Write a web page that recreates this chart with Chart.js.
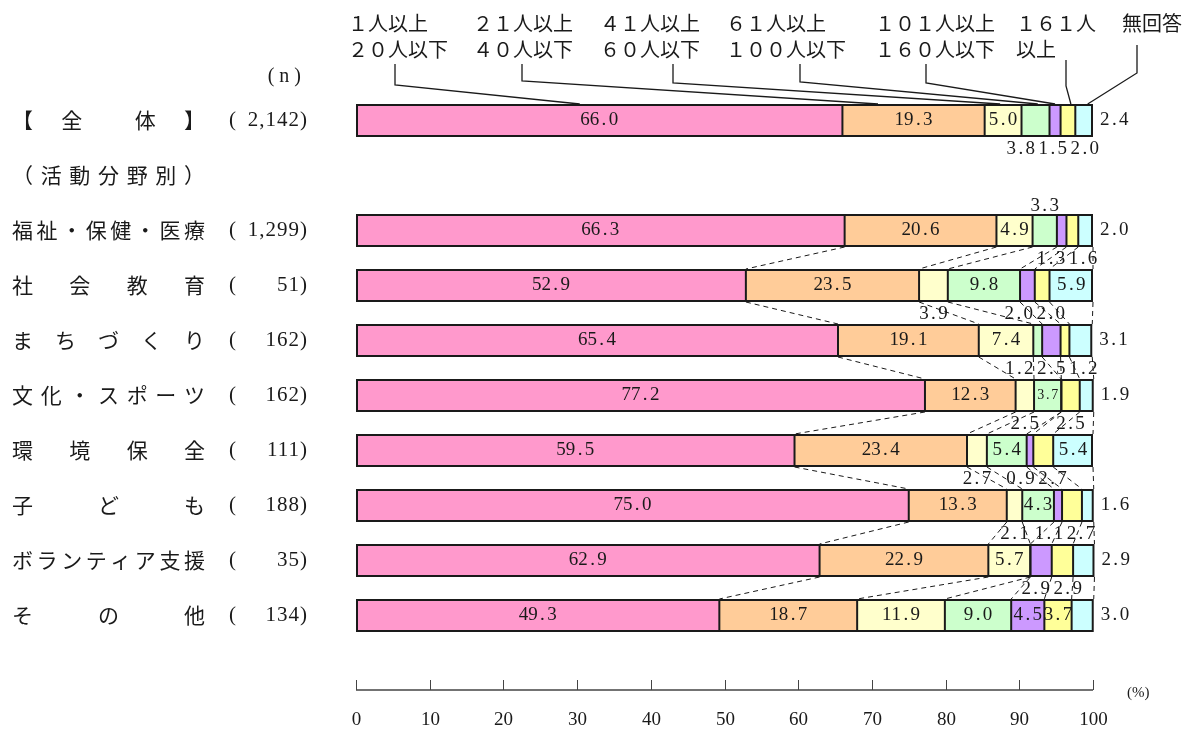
<!DOCTYPE html>
<html lang="ja">
<head>
<meta charset="utf-8">
<title>活動分野別 会員数</title>
<script src="https://cdn.jsdelivr.net/npm/chart.js@4.4.1/dist/chart.umd.min.js"></script>
<style>
  html, body { margin: 0; padding: 0; background: #fff; }
  #wrap { width: 1187px; height: 729px; }
</style>
</head>
<body>
<div id="wrap"><canvas id="chart" width="1187" height="729"></canvas></div>
<script>
// ---- data ----------------------------------------------------------------
// Row 1 is the section heading “（活動分野別）”; it carries no bar.
const categories = ['【　全　　体　】', '（活動分野別）', '福祉・保健・医療', '社会教育', 'まちづくり',
  '文化・スポーツ', '環境保全', '子ども', 'ボランティア支援', 'その他'];
const sampleSizes = [2142, null, 1299, 51, 162, 162, 111, 188, 35, 134];

const seriesNames = ['１人以上２０人以下', '２１人以上４０人以下', '４１人以上６０人以下',
  '６１人以上１００人以下', '１０１人以上１６０人以下', '１６１人以上', '無回答'];
const headerLine1 = ['１人以上', '２１人以上', '４１人以上', '６１人以上', '１０１人以上', '１６１人', '無回答'];
const headerLine2 = ['２０人以下', '４０人以下', '６０人以下', '１００人以下', '１６０人以下', '以上', ''];

const members1to20    = [66.0, null, 66.3, 52.9, 65.4, 77.2, 59.5, 75.0, 62.9, 49.3];
const members21to40   = [19.3, null, 20.6, 23.5, 19.1, 12.3, 23.4, 13.3, 22.9, 18.7];
const members41to60   = [ 5.0, null,  4.9,  3.9,  7.4,  2.5,  2.7,  2.1,  5.7, 11.9];
const members61to100  = [ 3.8, null,  3.3,  9.8,  1.2,  3.7,  5.4,  4.3,  0.0,  9.0];
const members101to160 = [ 1.5, null,  1.3,  2.0,  2.5,  0.0,  0.9,  1.1,  2.9,  4.5];
const members161plus  = [ 2.0, null,  1.6,  2.0,  1.2,  2.5,  2.7,  2.7,  2.9,  3.7];
const noAnswer        = [ 2.4, null,  2.0,  5.9,  3.1,  1.9,  5.4,  1.6,  2.9,  3.0];

const xTicks = [0, 10, 20, 30, 40, 50, 60, 70, 80, 90, 100];

// ---- styling ---------------------------------------------------------------
const seriesColors = ['#FF99CC', '#FFCC99', '#FFFFCC', '#CCFFCC', '#CC99FF', '#FFFF99', '#CCFFFF'];
const INK = '#1a1a1a';
const CJK = '"Noto Sans CJK JP", "Noto Sans", sans-serif';
const SERIF = '"Liberation Serif", "DejaVu Serif", serif';

// where small values get their label ("row:segment")
const labelPlacement = {
  '2:3': 'above',
  '5:3': 'insideSmall',
  '9:5': 'inside'
};

// legend heading placement and its leader lines into the first bar
const headerX      = [348, 473, 600, 726, 875, 1016, 1122];
const leaderX      = [395, 522, 673, 800, 926, 1066, 1137];
const leaderTopY   = [64, 64, 64, 64, 64, 60, 45];
const leaderElbowY = [85, 81, 83, 82, 83, 86, 73];
const leaderAt     = [0.46, 0.25, 0.42, 0.58, 0.5, 0.7, 0.7];

const seriesValues = [members1to20, members21to40, members41to60, members61to100,
  members101to160, members161plus, noAnswer];
const LAST = seriesValues.length - 1;

const datasets = seriesValues.map((vals, k) => ({
  label: seriesNames[k],
  data: vals,
  backgroundColor: seriesColors[k],
  borderColor: INK,
  borderWidth: { left: 0, right: 0, top: 2, bottom: 2 },
  borderSkipped: false,
  barPercentage: 0.6,
  categoryPercentage: 1.0
}));

// numbers set in half-width cells, like a Mincho face
function drawCells(ctx, text, x, y, size, align) {
  const cell = size * 0.5;
  const chars = Array.from(text);
  const total = chars.length * cell;
  let start = align === 'left' ? x : align === 'right' ? x - total : x - total / 2;
  ctx.font = size + 'px ' + SERIF;
  ctx.textAlign = 'center';
  ctx.textBaseline = 'middle';
  chars.forEach((ch, i) => ctx.fillText(ch, start + cell * (i + 0.5), y));
}

// characters spread evenly across a fixed column
function drawSpread(ctx, text, left, right, y, cw) {
  const chars = Array.from(text);
  const n = chars.length;
  const step = n > 1 ? (right - left - cw) / (n - 1) : 0;
  ctx.textAlign = 'left';
  chars.forEach((ch, i) => ctx.fillText(ch, left + i * step, y));
}

// push overlapping labels apart around the mean of their anchors
function spreadLabels(items, gap) {
  items.sort((a, b) => a.want - b.want);
  let clusters = items.map(it => ({ members: [it], center: it.want }));
  let merged = true;
  while (merged) {
    merged = false;
    for (let i = 0; i < clusters.length - 1; i++) {
      const a = clusters[i], b = clusters[i + 1];
      const aRight = a.center + (a.members.length - 1) * gap / 2;
      const bLeft = b.center - (b.members.length - 1) * gap / 2;
      if (bLeft - aRight < gap) {
        const members = a.members.concat(b.members);
        const center = members.reduce((s, m) => s + m.want, 0) / members.length;
        clusters.splice(i, 2, { members, center });
        merged = true;
        break;
      }
    }
  }
  clusters.forEach(c => c.members.forEach((m, j) => {
    m.x = c.center + (j - (c.members.length - 1) / 2) * gap;
  }));
}

const decorations = {
  id: 'decorations',
  afterDatasetsDraw(chart) {
    const ctx = chart.ctx;
    const xs = chart.scales.x;
    const area = chart.chartArea;
    const rows = [];
    categories.forEach((name, r) => {
      const el = chart.getDatasetMeta(0).data[r];
      const p = el.getProps(['y', 'height'], true);
      const vals = seriesValues.map(s => s[r]);
      let cum = 0;
      const edges = [xs.getPixelForValue(0)];
      vals.forEach(v => { cum += (v || 0); edges.push(xs.getPixelForValue(cum)); });
      rows.push({ y: p.y, top: p.y - p.height / 2, bottom: p.y + p.height / 2, vals, edges, hasBar: vals[0] !== null });
    });

    ctx.save();
    ctx.fillStyle = INK;
    ctx.strokeStyle = INK;

    // segment dividers and bar ends
    ctx.lineWidth = 2;
    rows.forEach(row => {
      if (!row.hasBar) return;
      row.edges.forEach((x, k) => {
        const ex = k === 0 ? x + 1 : k === row.edges.length - 1 ? x - 1 : x;
        ctx.beginPath();
        ctx.moveTo(ex, row.top);
        ctx.lineTo(ex, row.bottom);
        ctx.stroke();
      });
    });

    // dashed links between neighbouring bars
    ctx.setLineDash([5, 4]);
    ctx.lineWidth = 1;
    for (let r = 0; r < rows.length - 1; r++) {
      const a = rows[r], b = rows[r + 1];
      if (!a.hasBar || !b.hasBar || r === 0) continue;
      for (let k = 1; k < a.edges.length; k++) {
        ctx.beginPath();
        ctx.moveTo(a.edges[k], a.bottom);
        ctx.lineTo(b.edges[k], b.top);
        ctx.stroke();
      }
    }
    ctx.setLineDash([]);

    // value labels
    const NUM = 19;
    rows.forEach((row, r) => {
      if (!row.hasBar) return;
      const below = [], above = [];
      row.vals.forEach((v, k) => {
        if (!v) return;
        const txt = v.toFixed(1);
        const x0 = row.edges[k], x1 = row.edges[k + 1];
        const mid = (x0 + x1) / 2;
        const place = labelPlacement[r + ':' + k];
        if (place === 'insideSmall') {
          drawCells(ctx, txt, mid, row.y, 14, 'center');
        } else if (place === 'inside' || v >= 4) {
          drawCells(ctx, txt, mid, row.y, NUM, 'center');
        } else if (k === LAST) {
          drawCells(ctx, txt, row.edges[k + 1] + 7, row.y, NUM, 'left');
        } else if (place === 'above') {
          above.push({ want: mid, txt });
        } else {
          below.push({ want: mid, txt });
        }
      });
      spreadLabels(below, 32);
      spreadLabels(above, 32);
      below.forEach(m => drawCells(ctx, m.txt, m.x, row.bottom + 12, NUM, 'center'));
      above.forEach(m => drawCells(ctx, m.txt, m.x, row.top - 8, NUM, 'center'));
    });

    // legend heading with leader lines into the first bar
    ctx.font = '20px ' + CJK;
    ctx.textAlign = 'left';
    ctx.textBaseline = 'middle';
    headerLine1.forEach((t, k) => ctx.fillText(t, headerX[k], 23));
    headerLine2.forEach((t, k) => ctx.fillText(t, headerX[k], 49));
    const first = rows[0];
    ctx.lineWidth = 1.3;
    seriesValues.forEach((s, k) => {
      const tx = first.edges[k] + (first.edges[k + 1] - first.edges[k]) * leaderAt[k];
      ctx.beginPath();
      ctx.moveTo(leaderX[k], leaderTopY[k]);
      ctx.lineTo(leaderX[k], leaderElbowY[k]);
      ctx.lineTo(tx, first.top);
      ctx.stroke();
    });

    // row names and sample sizes
    rows.forEach((row, r) => {
      ctx.font = '21px ' + CJK;
      ctx.textBaseline = 'middle';
      drawSpread(ctx, categories[r], 12, 205, row.y, 21);
      const n = sampleSizes[r];
      if (n !== null) {
        ctx.font = '21px ' + SERIF;
        ctx.letterSpacing = '1px';
        ctx.textAlign = 'left';
        ctx.fillText('(', 229, row.y);
        ctx.textAlign = 'right';
        ctx.fillText(n.toLocaleString('en-US') + ')', 308, row.y);
        ctx.letterSpacing = '0px';
      }
    });
    ctx.font = '20px ' + SERIF;
    ctx.letterSpacing = '5px';
    ctx.textAlign = 'right';
    ctx.fillText('(n)', 306, 77);
    ctx.letterSpacing = '0px';

    // percentage axis
    const axisY = area.bottom + 47;
    ctx.strokeStyle = '#444';
    ctx.lineWidth = 1.5;
    ctx.beginPath();
    ctx.moveTo(xs.getPixelForValue(xTicks[0]), axisY);
    ctx.lineTo(xs.getPixelForValue(xTicks[xTicks.length - 1]), axisY);
    ctx.stroke();
    ctx.lineWidth = 1;
    ctx.font = '19px ' + SERIF;
    ctx.textAlign = 'center';
    xTicks.forEach(t => {
      const x = Math.round(xs.getPixelForValue(t)) + 0.5;
      ctx.beginPath();
      ctx.moveTo(x, axisY - 10);
      ctx.lineTo(x, axisY);
      ctx.stroke();
      ctx.fillText(String(t), x, axisY + 30);
    });
    ctx.font = '15px ' + SERIF;
    ctx.textAlign = 'left';
    ctx.fillText('(%)', 1127, axisY + 3);
    ctx.restore();
  }
};

new Chart(document.getElementById('chart'), {
  type: 'bar',
  data: { labels: categories, datasets },
  options: {
    indexAxis: 'y',
    responsive: false,
    animation: false,
    layout: { padding: { left: 356, right: 94, top: 93, bottom: 86 } },
    scales: {
      x: { stacked: true, min: 0, max: 100, display: false },
      y: { stacked: true, display: false }
    },
    plugins: { legend: { display: false }, tooltip: { enabled: false } }
  },
  plugins: [decorations]
});
</script>
</body>
</html>
